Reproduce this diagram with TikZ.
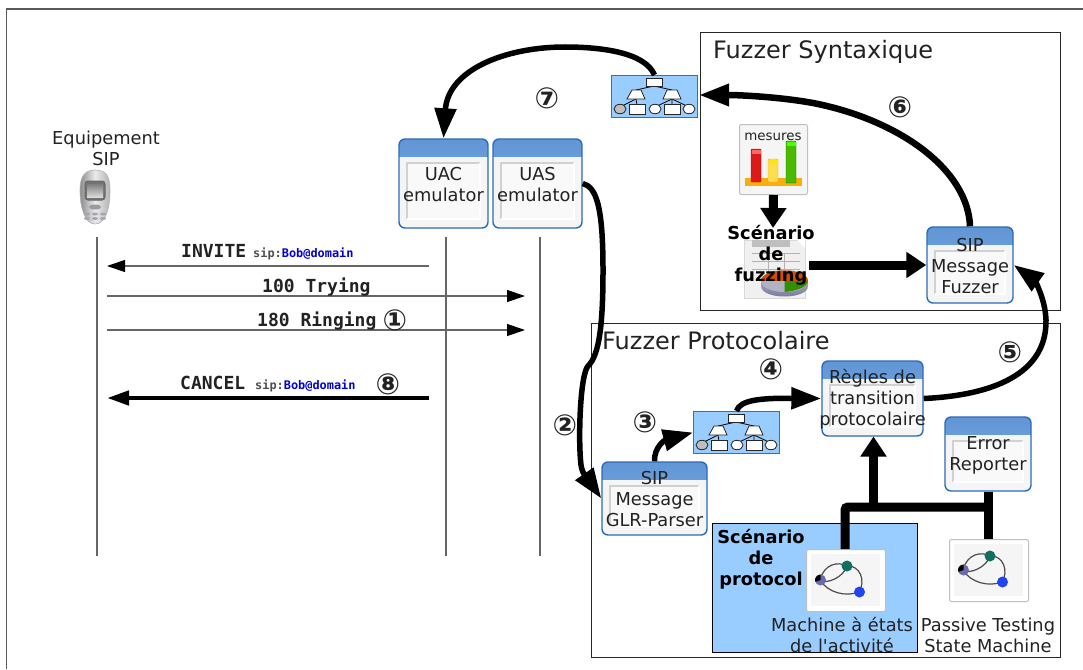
\documentclass[tikz,border=0pt]{standalone}
\usepackage{fontspec}
\setmainfont{DejaVu Sans}
\setmonofont{DejaVu Sans Mono}
\newfontfamily\rawfont{DejaVu Sans}
\usetikzlibrary{arrows.meta,shapes.geometric}
\definecolor{winborder}{HTML}{2B6BB8}
\definecolor{winhead}{HTML}{6DA6EC}
\definecolor{winbody}{HTML}{F5F5F5}
\definecolor{skyfill}{HTML}{99CCFF}
\definecolor{inktext}{HTML}{222222}
\definecolor{bubgreen}{HTML}{107060}
\definecolor{bubblue}{HTML}{2244EE}
\definecolor{bubviolet}{HTML}{6A6AB0}
\tikzset{
  winbox/.style={draw=winborder,line width=1.4pt,rounded corners=6pt,fill=winbody,inner sep=0pt,
    path picture={
      \fill[top color=winhead!90!black,bottom color=winhead!90!white,sharp corners] (path picture bounding box.north west) rectangle ([yshift=-17pt]path picture bounding box.north east);
      \fill[white!95!gray,sharp corners] ([xshift=8pt,yshift=-24pt]path picture bounding box.north west) rectangle ([xshift=-8pt,yshift=9pt]path picture bounding box.south east);
      \draw[black!18,line width=2pt,sharp corners] ([xshift=8pt,yshift=9pt]path picture bounding box.south west) -- ([xshift=8pt,yshift=-24pt]path picture bounding box.north west) -- ([xshift=-8pt,yshift=-24pt]path picture bounding box.north east);
      \draw[white,line width=1.6pt,sharp corners] ([xshift=8pt,yshift=9pt]path picture bounding box.south west) -- ([xshift=-8pt,yshift=9pt]path picture bounding box.south east) -- ([xshift=-8pt,yshift=-24pt]path picture bounding box.north east);
    }},
  wintext/.style={align=center,inner sep=0pt,text=inktext,yshift=-1pt,font=\fontsize{17.8}{21}\selectfont},
  boldtext/.style={align=center,inner sep=0pt,text=black,font=\fontsize{17.8}{21}\selectfont\bfseries},
  frametext/.style={anchor=west,inner sep=0pt,text=inktext,font=\fontsize{24}{28}\selectfont},
  mono/.style={anchor=base west,inner sep=0pt,text=inktext,font=\fontsize{18}{21}\selectfont\ttfamily\bfseries},
  monosmall/.style={anchor=base west,inner sep=0pt,text=inktext!80,font=\fontsize{11.9}{14}\selectfont\ttfamily\bfseries},
  stepnum/.style={inner sep=0pt,text=inktext,font=\fontsize{29}{32}\selectfont\bfseries},
  framebox/.style={draw=black!85,line width=1pt},
  iconbox/.style={draw=black!25,line width=1pt,rounded corners=2pt,fill=white,inner sep=0pt},
  treebox/.style={draw=black!60,line width=1pt,fill=skyfill,inner sep=0pt,anchor=north west,minimum width=86pt,minimum height=42pt},
  treeleaf/.style={draw=black!85,line width=.8pt,fill=white},
  lifeline/.style={draw=black!60,line width=1.2pt},
  msg/.style={draw=black!60,line width=1.2pt,-{Triangle[width=12pt,length=18pt,black]}},
  msgbold/.style={line width=4.5pt,black,-{Triangle[width=14pt,length=22pt]}},
  flow/.style={line width=5.5pt,black,-{Triangle[width=21pt,length=30pt]}},
  flowbig/.style={line width=9pt,black,-{Triangle[width=25pt,length=20pt]}},
  busline/.style={line width=9pt,black}
}
\begin{document}
\begin{tikzpicture}[x=1pt,y=-1pt]
\useasboundingbox (0,0) rectangle (1083,669);
% Cadre general
\fill[white] (0,0) rectangle (1083,669);
\draw[black!65,line width=1.5pt] (6.5,669) -- (6.5,9) -- (1083,9);

% Cadres des fuzzers
\node[framebox,minimum width=360pt,minimum height=278pt,anchor=north west,inner sep=0pt] (syntax) at (700,32) {};
\node[framebox,minimum width=469pt,minimum height=334pt,anchor=north west,inner sep=0pt] (proto) at (591,323) {};
\node[frametext] (syntaxT) at (713,52) {Fuzzer Syntaxique};
\node[frametext] (protoT) at (602,341) {Fuzzer Protocolaire};
\node[draw=black,line width=1pt,fill=skyfill,minimum width=205pt,minimum height=129pt,anchor=north west,inner sep=0pt] (scenBg) at (712,523) {};

% Telephone
\shade[left color=black!45,right color=black!30,middle color=black!8,draw=black!30,line width=.6pt] (95,170) .. controls (106,170) and (110,176) .. (110,190) .. controls (110,208) and (106,224) .. (95,224) .. controls (85,224) and (80,208) .. (80,190) .. controls (80,176) and (85,170) .. (95,170) -- cycle;
\draw[black!60,fill=black!55,rounded corners=3pt,line width=1pt] (85,181) rectangle (105,200);
\shade[top color=black!50,bottom color=black!15] (87,184) rectangle (103,197);
\fill[blue!15!black!40] (95,207) ellipse (6 and 2.5);
\foreach \i in {87,95,103}{\fill[blue!15!black!35] (\i,214) ellipse (3 and 1.5);\fill[blue!15!black!35] (\i,218.5) ellipse (3 and 1.5);}
\node[wintext,yshift=1pt] (equip) at (106,148) {Equipement\\SIP};

% Lignes de vie
\foreach \n/\i in {life/97,lifeC/446,lifeS/540}{
  \coordinate (\n A) at (\i,237);
  \coordinate (\n B) at (\i,556);
  \draw[lifeline] (\n A) -- (\n B);
}

% Messages
\coordinate (inviteR) at (429,266);
\coordinate (inviteL) at (107,266);
\coordinate (tryL) at (107,296);
\coordinate (tryR) at (525,296);
\coordinate (ringL) at (107,330);
\coordinate (ringR) at (525,330);
\coordinate (cancelR) at (429,398);
\coordinate (cancelL) at (107,398);
\draw[msg] (inviteR) -- (inviteL);
\draw[msg] (tryL) -- (tryR);
\draw[msg] (ringL) -- (ringR);
\draw[msgbold] (cancelR) -- (cancelL);
\node[mono] (invite) at (181,257) {INVITE};
\node[monosmall] (inviteS) at (253,257) {sip:\textcolor{blue!85!black}{Bob@domain}};
\node[mono] (try) at (262,292) {100 Trying};
\node[mono] (ring) at (257,326) {180 Ringing};
\node[mono] (cancel) at (180,389) {CANCEL};
\node[monosmall] (cancelS) at (255,389) {sip:\textcolor{blue!85!black}{Bob@domain}};

% Fenetres
\foreach \n/\cx/\cy/\w/\h/\t in {uac/443.5/183.5/89/89/{UAC\\emulator},uas/537.5/183.5/89/89/{UAS\\emulator},glr/654.5/498.5/105/73/{SIP\\Message\\GLR-Parser},regles/872.5/398.5/101/75/{R\`egles de\\transition\\protocolaire},error/988/454/86/74/{Error\\Reporter},fuzzer/970/265/86/76/{SIP\\Message\\Fuzzer}}{
  \node[winbox,minimum width=\w pt,minimum height=\h pt] (\n) at (\cx,\cy) {};
  \node[wintext] (\n T) at (\cx,\cy) {\t};
}

% Arbres
\foreach \n/\i/\j in {treeA/611/75,treeB/693/411}{
  \node[treebox] (\n) at (\i,\j) {};
  \begin{scope}[shift={(\i,\j)}]
    \draw[black,line width=.8pt] (25,24) -- (9,32) (25,24) -- (26,30) (43,11) -- (25,15) (43,11) -- (61,15) (61,24) -- (44,32) (61,24) -- (61,30) (61,24) -- (78,32);
    \draw[treeleaf] (35,3) rectangle (51,11);
    \draw[treeleaf] (16,24) -- (34,24) -- (30,15) -- (21,15) -- cycle;
    \draw[treeleaf] (52,24) -- (70,24) -- (66,15) -- (56,15) -- cycle;
    \draw[treeleaf,fill=black!25] (9,34) ellipse (6 and 4.7);
    \draw[treeleaf] (18,29.5) rectangle (34,39);
    \draw[treeleaf] (44,34) ellipse (6 and 4.7);
    \draw[treeleaf] (53,29.5) rectangle (69,39);
    \draw[treeleaf] (78,34) ellipse (6 and 4.7);
  \end{scope}
}

% Mesures
\node[iconbox,fill=winbody,minimum width=68pt,minimum height=70pt,anchor=north west] (mesures) at (739,124) {};
\fill[yellow!30!orange!90!yellow] (745,178) rectangle (802,186);
\draw[red!70!black,fill=red!85!black!90,rounded corners=1pt] (751,149) rectangle (761,182);
\fill[red!60!white] (751.5,149.5) rectangle (760.5,154);
\draw[orange!80,fill=yellow!70!orange!70,rounded corners=1pt] (768,159) rectangle (778,182);
\fill[yellow!90!orange] (768.5,159.5) rectangle (777.5,164);
\draw[green!50!black,fill=green!60!black!70!yellow,rounded corners=1pt] (786,141) rectangle (796,183);
\fill[green!70!yellow] (786.5,141.5) rectangle (795.5,146);
\node[inner sep=0pt,text=inktext,font=\fontsize{13.4}{15}\selectfont] (mesuresT) at (773,137) {mesures};

% Document du scenario
\node[draw=black!15,fill=black!6,minimum width=61pt,minimum height=58pt,anchor=north west,inner sep=0pt] (doc) at (744,240) {};
\fill[black!25] (752,240) rectangle (790,247);
\fill[white] (797,240) -- (805,240) -- (805,248) -- cycle;
\foreach \j in {253,261,269}{\draw[black!30] (752,\j) -- (800,\j);}
\foreach \i in {768,784}{\draw[black!30] (\i,253) -- (\i,275);}
\shade[top color=blue!25!black!35,bottom color=blue!25!black!55] (761,281) -- (761,286) .. controls (761,300) and (808,300) .. (808,286) -- (808,281) -- cycle;
\fill[blue!20!black!30] (784.5,281) ellipse (23.5 and 11);
\fill[orange!70!red!85!black] (761,281) .. controls (761,267) and (808,267) .. (808,281) -- cycle;
\fill[green!45!black!80!yellow] (784.5,281) -- (808,281) .. controls (808,287) and (796,291) .. (784.5,292) -- cycle;
\node[boldtext] (scenF) at (771,255.5) {Sc\'enario\\de\\fuzzing};

% Machines a etats
\foreach \n/\i/\j in {machA/806/549,machB/949/539}{
  \node[iconbox,minimum width=79pt,minimum height=62pt,anchor=north west] (\n) at (\i,\j) {};
  \begin{scope}[shift={(\i,\j)}]
    \fill[winbody] (5,5) rectangle (74,57);
    \draw[black!70,line width=1.2pt] (14,31) .. controls (18,15) and (32,12) .. (41,17) .. controls (38,28) and (20,36) .. (14,31);
    \draw[black!70,line width=1.2pt] (41,17) .. controls (54,16) and (60,32) .. (53,43) .. controls (40,48) and (22,44) .. (14,31);
    \fill[bubviolet] (14.5,31) circle (5.5);
    \fill[black] (14.5,31) -- (14.5,25.5) arc[start angle=-90,end angle=-200,radius=5.5] -- cycle;
    \fill[bubgreen] (41,17) circle (5.5);
    \fill[bubblue] (53.5,43) circle (5.5);
  \end{scope}
}
\node[wintext] (machAT) at (842,633.5) {Machine \`a \'etats\\de l{\rawfont'}activit\'e};
\node[wintext] (machBT) at (988,634.5) {Passive Testing\\State Machine};
\node[boldtext] (scenP) at (761,559) {Sc\'enario\\de\\protocol};

% Fleches
\draw[flow] (treeA.north) .. controls (645,52) and (600,47) .. (565,47) .. controls (505,47) and (448,70) .. (uac.north);
\draw[flow,line width=6.5pt] (fuzzer.north) .. controls (968,170) and (900,120) .. (813,103) .. controls (780,97) and (740,95) .. (699,95);
\draw[flow] (uas.east) .. controls (596,187) and (603,205) .. (603,270) .. controls (603,320) and (600,355) .. (588,366) .. controls (580,375) and (578,440) .. (581,465) .. controls (582,475) and (592,485) .. (glr.west);
\draw[flow] (regles.east) .. controls (980,396) and (1047,380) .. (1046,320) .. controls (1045,295) and (1032,278) .. (fuzzer.east);
\draw[flow] (glr.north) .. controls (654,447) and (665,440) .. (treeB.west);
\draw[flow] (treeB.north) .. controls (740,400) and (760,398) .. (regles.west);
\draw[flowbig] (mesures.south) -- (773,228);
\draw[flowbig] (809,265) -- (fuzzer.west);

% Connexions
\coordinate (busA) at (873.5,507);
\coordinate (busB) at (988,507);
\draw[busline,rounded corners=3pt] (845,549) -- (845,507) -- (busB);
\draw[flowbig] (busA) -- (873.5,436.5);
\draw[busline] (error.south) -- (busB) -- (988,539);

% Numeros
\foreach \n/\i/\j/\s in {numA/395/320/①,numB/565/425/②,numC/645/422/③,numD/771/369/④,numE/1010/352/⑤,numF/900/107/⑥,numG/547/98/⑦,numH/388/384/⑧}{
  \node[stepnum] (\n) at (\i,\j) {\s};
}
\end{tikzpicture}
\end{document}
